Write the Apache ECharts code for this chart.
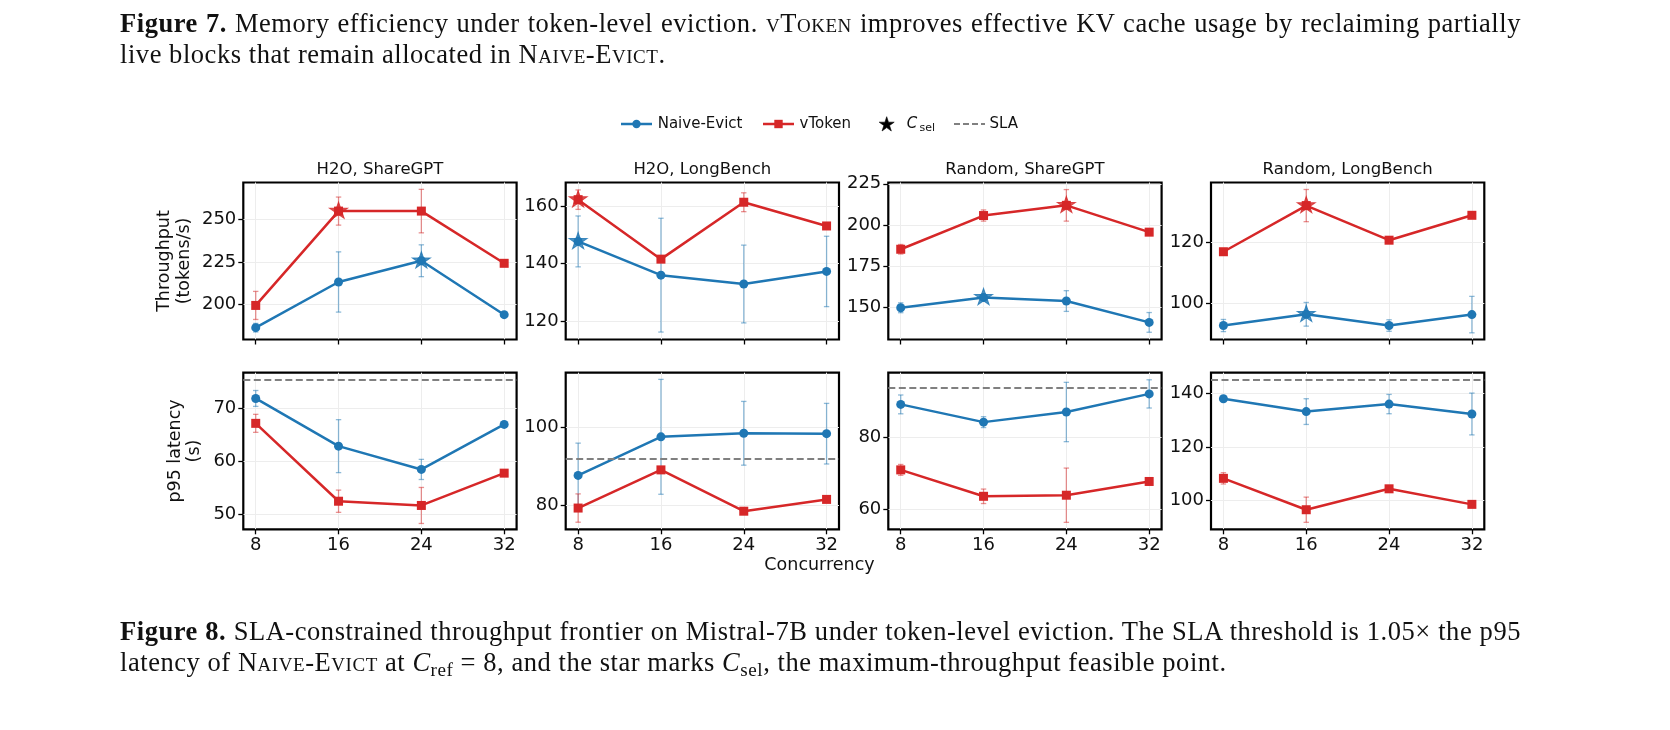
<!DOCTYPE html>
<html>
<head>
<meta charset="utf-8">
<script src="https://cdn.jsdelivr.net/npm/echarts@6/dist/echarts.min.js"></script>
<style>
  html, body { margin: 0; padding: 0; background: #fff; }
  #wrap { position: relative; width: 1670px; height: 730px; overflow: hidden; background: #fff; }
  #chart { position: absolute; left: 0; top: 0; width: 1670px; height: 730px; }
  .cap { position: absolute; left: 120px; width: 1401px; font-family: "Liberation Serif", serif;
         font-size: 26.5px; letter-spacing: 0.55px; line-height: 31px; color: #111; }
  .cap .l1 { text-align: justify; text-align-last: justify; white-space: nowrap; }
  .cap .sc { font-variant: small-caps; }
  .cap sub { font-size: 0.72em; line-height: 0; vertical-align: -0.25em; }
</style>
</head>
<body>
<div id="wrap">
  <div id="chart"></div>
  <div class="cap" style="top:8px">
    <div class="l1"><b>Figure 7.</b> Memory efficiency under token-level eviction. <span class="sc">vToken</span> improves effective KV cache usage by reclaiming partially</div>
    <div>live blocks that remain allocated in <span class="sc">Naive-Evict</span>.</div>
  </div>
  <div class="cap" style="top:616px">
    <div class="l1"><b>Figure 8.</b> SLA-constrained throughput frontier on Mistral-7B under token-level eviction. The SLA threshold is 1.05&times; the p95</div>
    <div>latency of <span class="sc">Naive-Evict</span> at <i>C</i><sub>ref</sub> = 8, and the star marks <i>C</i><sub>sel</sub>, the maximum-throughput feasible point.</div>
  </div>
</div>
<script>
// ==============================================================
// data
// ==============================================================
var concurrency = [8, 16, 24, 32];
var panelTitles = ['H2O, ShareGPT', 'H2O, LongBench', 'Random, ShareGPT', 'Random, LongBench'];

// throughput (tokens/s), one row per panel
var naiveThr = [
    [186.6, 213.3, 225.7, 194.2],
    [147.8, 136.0, 132.9, 137.3],
    [149.6, 155.9, 153.7, 140.7],
    [92.7, 96.4, 92.7, 96.3]
];
var naiveThrErr = [
    [2.5, 17.6, 9.3, 1.0],
    [8.9, 19.9, 13.6, 12.3],
    [3.0, 1.5, 6.3, 6.0],
    [2.0, 3.9, 1.9, 6.0]
];
var vtokenThr = [
    [199.6, 254.7, 254.7, 224.2],
    [162.4, 141.6, 161.5, 153.2],
    [185.2, 205.7, 211.9, 195.6],
    [117.0, 132.2, 120.8, 129.0]
];
var vtokenThrErr = [
    [8.2, 8.2, 12.7, 1.0],
    [3.4, 1.0, 3.3, 1.0],
    [2.9, 3.4, 9.6, 1.0],
    [0.8, 5.3, 1.0, 0.8]
];

// p95 latency (s)
var naiveLat = [
    [71.8, 62.8, 58.4, 66.9],
    [87.7, 97.5, 98.4, 98.3],
    [89.1, 84.2, 87.0, 92.0],
    [138.0, 133.2, 136.0, 132.3]
];
var naiveLatErr = [
    [1.5, 5.0, 1.9, 0.4],
    [8.2, 14.6, 8.1, 7.7],
    [2.6, 1.5, 8.2, 3.9],
    [0.8, 4.8, 3.6, 7.8]
];
var vtokenLat = [
    [67.1, 52.4, 51.6, 57.7],
    [79.4, 89.1, 78.6, 81.6],
    [71.0, 63.7, 64.0, 67.8],
    [108.3, 96.6, 104.4, 98.6]
];
var vtokenLatErr = [
    [1.7, 2.1, 3.4, 0.4],
    [3.6, 0.5, 0.5, 0.5],
    [1.5, 2.0, 7.5, 0.5],
    [2.1, 4.7, 0.8, 0.5]
];

var slaLatency = [75.3, 91.9, 93.7, 145.0];
// index into concurrency of the selected point C_sel
var naiveSel = [2, 0, 1, 1];
var vtokenSel = [1, 0, 2, 1];

// tick labels
var xTicks = [8, 16, 24, 32];
var thrTicks = [[200, 225, 250], [120, 140, 160], [150, 175, 200, 225], [100, 120]];
var latTicks = [[50, 60, 70], [80, 100], [60, 80], [100, 120, 140]];

// ==============================================================
// layout / style
// ==============================================================
var BLUE = '#1f77b4', RED = '#d62728';
var BLUE_ERR = 'rgba(31,119,180,0.5)', RED_ERR = 'rgba(214,39,40,0.5)';
var FONT = 'DejaVu Sans';
var STAR = 'path://M100,0L122.45,69.1L195.11,69.1L136.33,111.8L158.78,180.9L100,138.2L41.22,180.9L63.67,111.8L4.89,69.1L77.55,69.1Z';

var gridLefts = [243.3, 565.7, 888.3, 1211];
var panelW = 273.3;
var rowBoxes = [{ top: 182.5, height: 157 }, { top: 372.7, height: 156.6 }];
var thrRange = [[179.7, 271.4], [113.5, 168.4], [130.3, 225.8], [88.1, 139.8]];
var latRange = [[47.1, 76.66], [74.0, 113.8], [54.58, 97.86], [89.3, 147.7]];

function pts(vals) {
    return concurrency.map(function (c, j) { return [c, vals[j]]; });
}
function errPts(vals, errs) {
    return concurrency.map(function (c, j) { return [c, vals[j] - errs[j], vals[j] + errs[j]]; });
}
function renderErr(params, api) {
    var x = api.value(0);
    var p1 = api.coord([x, api.value(2)]);
    var p2 = api.coord([x, api.value(1)]);
    var cap = 2.7;
    var style = { stroke: api.visual('color'), lineWidth: 1.3 };
    return {
        type: 'group',
        children: [
            { type: 'line', shape: { x1: p1[0], y1: p1[1], x2: p2[0], y2: p2[1] }, style: style },
            { type: 'line', shape: { x1: p1[0] - cap, y1: p1[1], x2: p1[0] + cap, y2: p1[1] }, style: style },
            { type: 'line', shape: { x1: p2[0] - cap, y1: p2[1], x2: p2[0] + cap, y2: p2[1] }, style: style }
        ]
    };
}
// five-point star outline around (cx, cy) for the legend handle
function starPoints(cx, cy, R) {
    var out = [];
    for (var k = 0; k < 10; k++) {
        var rad = k % 2 === 0 ? R : R * 0.382;
        var a = Math.PI / 2 + k * Math.PI / 5;
        out.push([cx + rad * Math.cos(a), cy - rad * Math.sin(a)]);
    }
    return out;
}

var grids = [], xAxes = [], yAxes = [], series = [];

for (var r = 0; r < 2; r++) {
    for (var c = 0; c < 4; c++) {
        var gi = r * 4 + c;
        grids.push({
            left: gridLefts[c], top: rowBoxes[r].top, width: panelW, height: rowBoxes[r].height,
            show: true, borderColor: '#000', borderWidth: 2.2, backgroundColor: 'transparent',
            outerBoundsMode: 'none'
        });
        xAxes.push({
            type: 'value', gridIndex: gi, min: 6.8, max: 33.2,
            axisLine: { show: false },
            axisTick: { show: true, length: 5, lineStyle: { color: '#000', width: 1.3 }, customValues: xTicks },
            axisLabel: { show: r === 1, customValues: xTicks, margin: 7, fontSize: 18, fontFamily: FONT, color: '#111' },
            splitLine: { show: true, lineStyle: { color: '#ededed', width: 1 } }
        });
        var ticks = r === 0 ? thrTicks[c] : latTicks[c];
        var rng = r === 0 ? thrRange[c] : latRange[c];
        yAxes.push({
            type: 'value', gridIndex: gi, min: rng[0], max: rng[1],
            axisLine: { show: false },
            axisTick: { show: true, length: 5, lineStyle: { color: '#000', width: 1.3 }, customValues: ticks },
            axisLabel: { customValues: ticks, margin: 7, fontSize: 18, fontFamily: FONT, color: '#111' },
            splitLine: { show: true, lineStyle: { color: '#ededed', width: 1 } }
        });

        var nv = r === 0 ? naiveThr[c] : naiveLat[c];
        var ne = r === 0 ? naiveThrErr[c] : naiveLatErr[c];
        var vv = r === 0 ? vtokenThr[c] : vtokenLat[c];
        var ve = r === 0 ? vtokenThrErr[c] : vtokenLatErr[c];

        series.push({
            type: 'custom', name: 'Naive-Evict err', xAxisIndex: gi, yAxisIndex: gi,
            renderItem: renderErr, itemStyle: { color: BLUE_ERR },
            encode: { x: 0, y: [1, 2] }, data: errPts(nv, ne), z: 2, silent: true
        });
        var naiveLine = {
            type: 'line', name: 'Naive-Evict', xAxisIndex: gi, yAxisIndex: gi,
            data: pts(nv), symbol: 'circle', symbolSize: 9,
            itemStyle: { color: BLUE }, lineStyle: { color: BLUE, width: 2.5 }, z: 3
        };
        if (r === 1) {
            naiveLine.markLine = {
                silent: true, symbol: 'none', label: { show: false },
                lineStyle: { color: '#808080', width: 2, type: [7, 3.5] },
                data: [{ yAxis: slaLatency[c] }]
            };
        }
        series.push(naiveLine);
        series.push({
            type: 'custom', name: 'vToken err', xAxisIndex: gi, yAxisIndex: gi,
            renderItem: renderErr, itemStyle: { color: RED_ERR },
            encode: { x: 0, y: [1, 2] }, data: errPts(vv, ve), z: 4, silent: true
        });
        series.push({
            type: 'line', name: 'vToken', xAxisIndex: gi, yAxisIndex: gi,
            data: pts(vv), symbol: 'rect', symbolSize: 9,
            itemStyle: { color: RED }, lineStyle: { color: RED, width: 2.5 }, z: 5
        });
        if (r === 0) {
            series.push({
                type: 'scatter', name: 'C_sel', xAxisIndex: gi, yAxisIndex: gi,
                data: [[concurrency[naiveSel[c]], nv[naiveSel[c]]]],
                symbol: STAR, symbolKeepAspect: true, symbolSize: [18, 17.1], symbolOffset: [0, -0.9],
                itemStyle: { color: BLUE, borderColor: BLUE, borderWidth: 1 }, z: 6
            });
            series.push({
                type: 'scatter', name: 'C_sel', xAxisIndex: gi, yAxisIndex: gi,
                data: [[concurrency[vtokenSel[c]], vv[vtokenSel[c]]]],
                symbol: STAR, symbolKeepAspect: true, symbolSize: [18, 17.1], symbolOffset: [0, -0.9],
                itemStyle: { color: RED, borderColor: RED, borderWidth: 1 }, z: 7
            });
        }
    }
}

// ==============================================================
// titles, axis names and legend
// ==============================================================
var graphic = [];
panelTitles.forEach(function (t, c) {
    graphic.push({
        type: 'text', x: gridLefts[c] + panelW / 2, y: 169.5,
        style: { text: t, fontSize: 16.5, fontFamily: FONT, fill: '#111', align: 'center', verticalAlign: 'middle' }
    });
});
graphic.push({
    type: 'text', x: 819.5, y: 565.5,
    style: { text: 'Concurrency', fontSize: 17.5, fontFamily: FONT, fill: '#111', align: 'center', verticalAlign: 'middle' }
});
graphic.push({
    type: 'text', x: 174, y: 261, rotation: Math.PI / 2,
    style: { text: 'Throughput\n(tokens/s)', fontSize: 17.5, lineHeight: 20, fontFamily: FONT, fill: '#111', align: 'center', verticalAlign: 'middle' }
});
graphic.push({
    type: 'text', x: 185, y: 451, rotation: Math.PI / 2,
    style: { text: 'p95 latency\n(s)', fontSize: 17.5, lineHeight: 19, fontFamily: FONT, fill: '#111', align: 'center', verticalAlign: 'middle' }
});

var LY = 124;
graphic.push(
    { type: 'line', shape: { x1: 621, y1: LY, x2: 652, y2: LY }, style: { stroke: BLUE, lineWidth: 2.5 } },
    { type: 'circle', shape: { cx: 636.5, cy: LY, r: 4.2 }, style: { fill: BLUE } },
    { type: 'text', x: 657.7, y: LY, style: { text: 'Naive-Evict', fontSize: 15, fontFamily: FONT, fill: '#111', verticalAlign: 'middle' } },
    { type: 'line', shape: { x1: 763, y1: LY, x2: 794, y2: LY }, style: { stroke: RED, lineWidth: 2.5 } },
    { type: 'rect', shape: { x: 774.3, y: LY - 4.2, width: 8.4, height: 8.4 }, style: { fill: RED } },
    { type: 'text', x: 799.5, y: LY, style: { text: 'vToken', fontSize: 15, fontFamily: FONT, fill: '#111', verticalAlign: 'middle' } },
    { type: 'polygon', shape: { points: starPoints(886.7, LY + 0.6, 7.9) }, style: { fill: '#000', stroke: '#000', lineWidth: 0.6 } },
    { type: 'text', x: 906.7, y: LY, style: { text: 'C', fontSize: 15, fontStyle: 'italic', fontFamily: FONT, fill: '#111', verticalAlign: 'middle' } },
    { type: 'text', x: 919.5, y: LY + 4, style: { text: 'sel', fontSize: 11, fontFamily: FONT, fill: '#111', verticalAlign: 'middle' } },
    { type: 'line', shape: { x1: 954, y1: LY, x2: 985, y2: LY }, style: { stroke: '#808080', lineWidth: 2, lineDash: [6, 3] } },
    { type: 'text', x: 989.5, y: LY, style: { text: 'SLA', fontSize: 15, fontFamily: FONT, fill: '#111', verticalAlign: 'middle' } }
);

var chart = echarts.init(document.getElementById('chart'), null, { renderer: 'canvas' });
chart.setOption({
    backgroundColor: 'transparent',
    animation: false,
    grid: grids,
    xAxis: xAxes,
    yAxis: yAxes,
    series: series,
    graphic: graphic
});
</script>
</body>
</html>
